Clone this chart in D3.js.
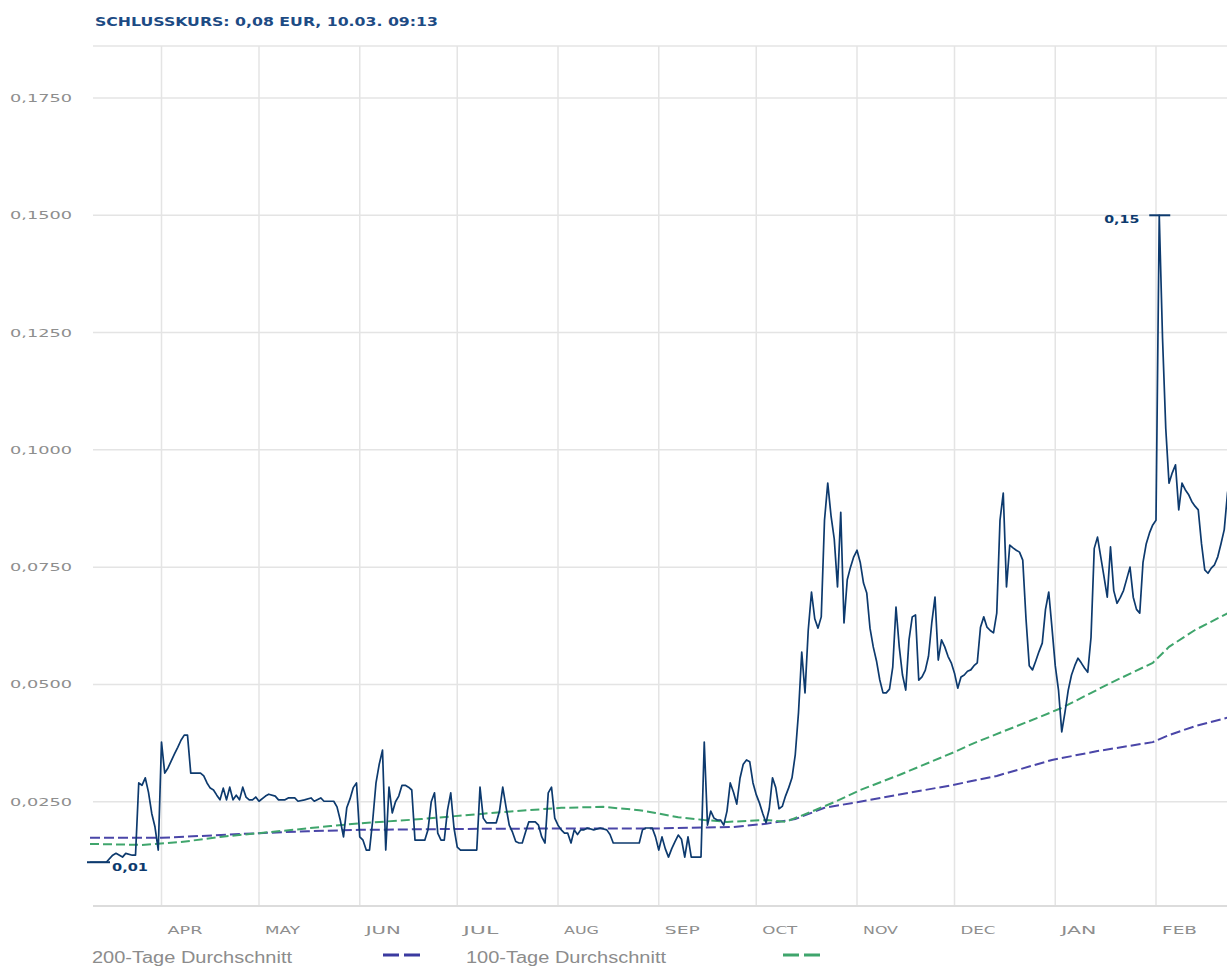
<!DOCTYPE html>
<html>
<head>
<meta charset="utf-8">
<script src="https://cdn.jsdelivr.net/npm/d3@7"></script>
<style>
  body { margin: 0; background: #fff; }
  svg { display: block; }
</style>
</head>
<body>
<div id="chart"></div>
<script>
// Beschriftungen
const titel = "SCHLUSSKURS: 0,08 EUR, 10.03. 09:13";
const monate = ["APR", "MAY", "JUN", "JUL", "AUG", "SEP", "OCT", "NOV", "DEC", "JAN", "FEB"];
const yTicks = [0.025, 0.05, 0.075, 0.1, 0.125, 0.15, 0.175];
const legende = ["200-Tage Durchschnitt", "100-Tage Durchschnitt"];

const kurs = [
  ["10.03",0.0121],["15.03",0.0121],["17.03",0.0136],["18.03",0.0140],["20.03",0.0132],["21.03",0.0140],
  ["23.03",0.0136],["24.03",0.0136],["25.03",0.0290],["26.03",0.0285],["27.03",0.0301],["28.03",0.0270],
  ["29.03",0.0225],["30.03",0.0196],["31.03",0.0147],["01.04",0.0377],["02.04",0.0311],["03.04",0.0322],
  ["04.04",0.0337],["05.04",0.0352],["06.04",0.0366],["07.04",0.0381],["08.04",0.0392],["09.04",0.0392],
  ["10.04",0.0311],["13.04",0.0311],["14.04",0.0305],["15.04",0.0290],["16.04",0.0279],["17.04",0.0275],
  ["18.04",0.0264],["19.04",0.0254],["20.04",0.0279],["21.04",0.0254],["22.04",0.0281],["23.04",0.0254],
  ["24.04",0.0264],["25.04",0.0254],["26.04",0.0281],["27.04",0.0260],["28.04",0.0254],["29.04",0.0254],
  ["30.04",0.0260],["01.05",0.0251],["03.05",0.0262],["04.05",0.0266],["06.05",0.0262],["07.05",0.0254],
  ["09.05",0.0254],["10.05",0.0258],["12.05",0.0258],["13.05",0.0251],["15.05",0.0254],["17.05",0.0258],
  ["18.05",0.0251],["20.05",0.0258],["21.05",0.0251],["24.05",0.0251],["25.05",0.0239],["26.05",0.0211],
  ["27.05",0.0175],["28.05",0.0237],["29.05",0.0256],["30.05",0.0280],["31.05",0.0290],["01.06",0.0175],
  ["02.06",0.0168],["03.06",0.0147],["04.06",0.0147],["05.06",0.0211],["06.06",0.0290],["07.06",0.0330],
  ["08.06",0.0360],["09.06",0.0147],["10.06",0.0281],["11.06",0.0226],["12.06",0.0250],["13.06",0.0262],
  ["14.06",0.0285],["15.06",0.0285],["16.06",0.0281],["17.06",0.0275],["18.06",0.0168],["21.06",0.0168],
  ["22.06",0.0190],["23.06",0.0250],["24.06",0.0269],["25.06",0.0183],["26.06",0.0168],["27.06",0.0168],
  ["28.06",0.0232],["29.06",0.0269],["30.06",0.0194],["01.07",0.0153],["02.07",0.0147],["07.07",0.0147],
  ["08.07",0.0281],["09.07",0.0215],["10.07",0.0205],["13.07",0.0205],["14.07",0.0230],["15.07",0.0281],
  ["16.07",0.0239],["17.07",0.0200],["18.07",0.0185],["19.07",0.0165],["20.07",0.0162],["21.07",0.0162],
  ["22.07",0.0185],["23.07",0.0207],["25.07",0.0207],["26.07",0.0200],["27.07",0.0175],["28.07",0.0162],
  ["29.07",0.0269],["30.07",0.0281],["31.07",0.0215],["01.08",0.0200],["02.08",0.0190],["03.08",0.0183],
  ["04.08",0.0183],["05.08",0.0162],["06.08",0.0190],["07.08",0.0180],["08.08",0.0190],["09.08",0.0190],
  ["10.08",0.0194],["12.08",0.0190],["14.08",0.0194],["16.08",0.0190],["17.08",0.0180],["18.08",0.0162],
  ["26.08",0.0162],["27.08",0.0190],["28.08",0.0194],["30.08",0.0194],["31.08",0.0175],["01.09",0.0147],
  ["02.09",0.0175],["03.09",0.0150],["04.09",0.0132],["05.09",0.0150],["06.09",0.0165],["07.09",0.0179],
  ["08.09",0.0170],["09.09",0.0132],["10.09",0.0175],["11.09",0.0132],["14.09",0.0132],["15.09",0.0377],
  ["16.09",0.0200],["17.09",0.0230],["18.09",0.0215],["19.09",0.0211],["20.09",0.0211],["21.09",0.0200],
  ["22.09",0.0230],["23.09",0.0290],["24.09",0.0270],["25.09",0.0245],["26.09",0.0300],["27.09",0.0330],
  ["28.09",0.0339],["29.09",0.0335],["30.09",0.0290],["01.10",0.0265],["02.10",0.0247],["03.10",0.0225],
  ["04.10",0.0205],["05.10",0.0235],["06.10",0.0301],["07.10",0.0280],["08.10",0.0235],["09.10",0.0240],
  ["10.10",0.0262],["11.10",0.0280],["12.10",0.0301],["13.10",0.0350],["14.10",0.0440],["15.10",0.0569],
  ["16.10",0.0482],["17.10",0.0616],["18.10",0.0697],["19.10",0.0640],["20.10",0.0620],["21.10",0.0644],
  ["22.10",0.0850],["23.10",0.0929],["24.10",0.0860],["25.10",0.0810],["26.10",0.0708],["27.10",0.0867],
  ["28.10",0.0631],["29.10",0.0723],["30.10",0.0750],["31.10",0.0772],["01.11",0.0786],["02.11",0.0760],
  ["03.11",0.0716],["04.11",0.0695],["05.11",0.0620],["06.11",0.0580],["07.11",0.0550],["08.11",0.0510],
  ["09.11",0.0482],["10.11",0.0482],["11.11",0.0490],["12.11",0.0537],["13.11",0.0665],["14.11",0.0580],
  ["15.11",0.0520],["16.11",0.0488],["17.11",0.0595],["18.11",0.0644],["19.11",0.0648],["20.11",0.0509],
  ["21.11",0.0516],["22.11",0.0530],["23.11",0.0560],["24.11",0.0631],["25.11",0.0686],["26.11",0.0552],
  ["27.11",0.0595],["28.11",0.0580],["29.11",0.0560],["30.11",0.0546],["01.12",0.0524],["02.12",0.0492],
  ["03.12",0.0516],["04.12",0.0520],["05.12",0.0528],["06.12",0.0531],["07.12",0.0540],["08.12",0.0546],
  ["09.12",0.0622],["10.12",0.0644],["11.12",0.0622],["12.12",0.0615],["13.12",0.0610],["14.12",0.0652],
  ["15.12",0.0850],["16.12",0.0908],["17.12",0.0708],["18.12",0.0797],["19.12",0.0791],["20.12",0.0786],
  ["21.12",0.0782],["22.12",0.0765],["23.12",0.0640],["24.12",0.0540],["25.12",0.0531],["26.12",0.0550],
  ["27.12",0.0570],["28.12",0.0588],["29.12",0.0660],["30.12",0.0697],["31.12",0.0620],["01.01",0.0540],
  ["02.01",0.0488],["03.01",0.0399],["04.01",0.0441],["05.01",0.0488],["06.01",0.0520],["07.01",0.0540],
  ["08.01",0.0556],["09.01",0.0546],["10.01",0.0535],["11.01",0.0526],["12.01",0.0600],["13.01",0.0790],
  ["14.01",0.0814],["15.01",0.0772],["16.01",0.0730],["17.01",0.0686],["18.01",0.0793],["19.01",0.0700],
  ["20.01",0.0673],["21.01",0.0685],["22.01",0.0700],["23.01",0.0725],["24.01",0.0750],["25.01",0.0686],
  ["26.01",0.0660],["27.01",0.0652],["28.01",0.0760],["29.01",0.0800],["30.01",0.0823],["31.01",0.0840],
  ["01.02",0.0850],["02.02",0.1500],["03.02",0.1240],["04.02",0.1046],["05.02",0.0929],["06.02",0.0951],
  ["07.02",0.0968],["08.02",0.0872],["09.02",0.0929],["10.02",0.0915],["11.02",0.0905],["12.02",0.0890],
  ["13.02",0.0880],["14.02",0.0872],["15.02",0.0800],["16.02",0.0744],["17.02",0.0737],["18.02",0.0748],
  ["19.02",0.0755],["20.02",0.0772],["21.02",0.0800],["22.02",0.0830],["23.02",0.0908],["24.02",0.0950]
];

// gleitende Durchschnitte
const avg200 = [
  ["10.03",0.0173],["01.04",0.0173],["13.04",0.0177],["01.05",0.0183],["16.05",0.0187],["01.06",0.0190],
  ["01.07",0.0192],["01.08",0.0193],["31.08",0.0193],["24.09",0.0196],["04.10",0.0203],["13.10",0.0213],
  ["22.10",0.0237],["01.11",0.0249],["13.11",0.0264],["30.11",0.0285],["14.12",0.0305],["31.12",0.0339],
  ["14.01",0.0358],["31.01",0.0377],["05.02",0.0392],["13.02",0.0411],["24.02",0.0431]
];
const avg100 = [
  ["10.03",0.0160],["26.03",0.0158],["07.04",0.0164],["19.04",0.0175],["01.05",0.0183],["23.05",0.0198],
  ["01.06",0.0204],["20.06",0.0213],["15.07",0.0228],["02.08",0.0237],["15.08",0.0239],["26.08",0.0232],
  ["31.08",0.0226],["07.09",0.0217],["15.09",0.0211],["22.09",0.0207],["04.10",0.0211],["10.10",0.0207],
  ["17.10",0.0226],["25.10",0.0249],["02.11",0.0275],["14.11",0.0307],["01.12",0.0356],["07.12",0.0375],
  ["27.12",0.0430],["03.01",0.0450],["18.01",0.0503],["31.01",0.0546],["05.02",0.0580],["13.02",0.0616],
  ["24.02",0.0655]
];

const W = 1227, H = 967;
const plotTop = 46, plotBottom = 906, plotLeft = 93;

function tag(s) {
  const [d, m] = s.split(".").map(Number);
  return new Date(m >= 3 ? 2022 : 2023, m - 1, d);
}

const x = d3.scaleTime()
  .domain([new Date(2022, 2, 10), new Date(2023, 2, 10)])
  .range([90, 90 + 365 * 3.25]);
const y = d3.scaleLinear().domain([0, 0.175]).range([919, 98]);

const svg = d3.select("#chart").append("svg")
  .attr("width", W).attr("height", H);

svg.append("rect").attr("width", W).attr("height", H).attr("fill", "#fff");

// Titel
svg.append("text")
  .attr("x", 95).attr("y", 26)
  .attr("textLength", 343).attr("lengthAdjust", "spacingAndGlyphs")
  .style("font-family", "DejaVu Sans").style("font-size", "12px").style("font-weight", "bold")
  .attr("fill", "#1d4b84")
  .text(titel);

// Gitter
const grid = svg.append("g").attr("stroke", "#e4e4e4").attr("stroke-width", 1.5);
grid.append("line").attr("x1", plotLeft).attr("x2", W).attr("y1", plotTop).attr("y2", plotTop);
grid.selectAll(".h").data(yTicks).enter().append("line")
  .attr("x1", plotLeft).attr("x2", W)
  .attr("y1", d => y(d)).attr("y2", d => y(d));

const monatsAnfang = d3.timeMonth.range(new Date(2022, 3, 1), new Date(2023, 2, 1));
grid.selectAll(".v").data(monatsAnfang).enter().append("line")
  .attr("x1", d => x(d)).attr("x2", d => x(d))
  .attr("y1", plotTop).attr("y2", plotBottom);

svg.append("line").attr("x1", plotLeft).attr("x2", W).attr("y1", plotBottom).attr("y2", plotBottom)
  .attr("stroke", "#dcdcdc").attr("stroke-width", 2);

// Achsenbeschriftung
const fmt = d => d3.format(".4f")(d).replace(".", ",");
svg.selectAll(".ylab").data(yTicks).enter().append("text")
  .attr("x", 10).attr("y", d => y(d) + 4)
  .attr("textLength", 62).attr("lengthAdjust", "spacingAndGlyphs")
  .style("font-family", "DejaVu Sans").style("font-size", "11px")
  .attr("fill", "#8e8e8e")
  .text(fmt);

svg.selectAll(".xlab").data(monatsAnfang).enter().append("text")
  .attr("x", d => x(d) + 6).attr("y", 934)
  .attr("textLength", 35).attr("lengthAdjust", "spacingAndGlyphs")
  .style("font-family", "DejaVu Sans").style("font-size", "11px")
  .attr("fill", "#8e8e8e")
  .text((d, i) => monate[i]);

// Linien
const linie = d3.line().x(d => x(tag(d[0]))).y(d => y(d[1]));

svg.append("path").datum(avg200)
  .attr("d", linie).attr("fill", "none")
  .attr("stroke", "#4a46a8").attr("stroke-width", 2)
  .attr("stroke-dasharray", "10,4");

svg.append("path").datum(avg100)
  .attr("d", linie).attr("fill", "none")
  .attr("stroke", "#3fa56c").attr("stroke-width", 2)
  .attr("stroke-dasharray", "9,4");

svg.append("path").datum(kurs)
  .attr("d", linie).attr("fill", "none")
  .attr("stroke", "#0d3a6e").attr("stroke-width", 1.7)
  .attr("stroke-linejoin", "round");

// Hoch / Tief
const hoch = d3.greatest(kurs, d => d[1]);
const tief = d3.least(kurs, d => d[1]);
const mark = svg.append("g").attr("stroke", "#0d3a6e").attr("stroke-width", 2);
mark.append("line")
  .attr("x1", x(tag(hoch[0])) - 10).attr("x2", x(tag(hoch[0])) + 11)
  .attr("y1", y(hoch[1])).attr("y2", y(hoch[1]));
mark.append("line")
  .attr("x1", x(tag(tief[0])) - 3).attr("x2", x(tag(tief[0])) + 20)
  .attr("y1", y(tief[1])).attr("y2", y(tief[1]));

const annoStyle = sel => sel
  .style("font-family", "DejaVu Sans").style("font-size", "11px").style("font-weight", "bold")
  .attr("fill", "#0d3a6e").attr("lengthAdjust", "spacingAndGlyphs");

svg.append("text").call(annoStyle)
  .attr("x", x(tag(hoch[0])) - 55).attr("y", y(hoch[1]) + 8)
  .attr("textLength", 35)
  .text(d3.format(".2f")(hoch[1]).replace(".", ","));
svg.append("text").call(annoStyle)
  .attr("x", x(tag(tief[0])) + 22).attr("y", y(tief[1]) + 9)
  .attr("textLength", 36)
  .text(d3.format(".2f")(tief[1]).replace(".", ","));

// Legende
const legFarben = ["#3b3aa0", "#3fa56c"];
const legX = [92, 466];
const legStrich = [383, 783];
legende.forEach((t, i) => {
  svg.append("text")
    .attr("x", legX[i]).attr("y", 963)
    .attr("textLength", 200).attr("lengthAdjust", "spacingAndGlyphs")
    .style("font-family", "Liberation Sans").style("font-size", "16px")
    .attr("fill", "#8c8c8c")
    .text(t);
  svg.append("line")
    .attr("x1", legStrich[i]).attr("x2", legStrich[i] + 37)
    .attr("y1", 955).attr("y2", 955)
    .attr("stroke", legFarben[i]).attr("stroke-width", 3)
    .attr("stroke-dasharray", "16,5");
});
</script>
</body>
</html>
